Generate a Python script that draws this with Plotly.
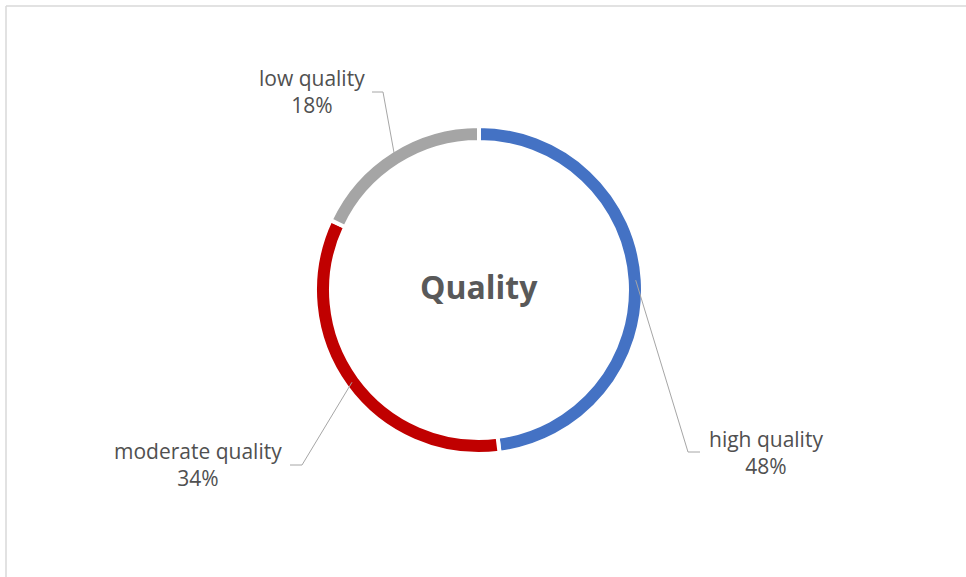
import math
import plotly.graph_objects as go

labels = ["high quality", "moderate quality", "low quality"]
values = [48, 34, 18]
colors = ["#4472C4", "#C00000", "#A5A5A5"]
center_title = "Quality"

W, H = 966, 577
cx, cy = 479, 290          # pixel centre of ring
r_out, r_in = 164, 148      # incl. white separator stroke
gap = 4

def px(x):
    return x / W

def py(y):
    return 1 - y / H

fig = go.Figure()
fig.add_trace(go.Pie(
    labels=labels,
    values=values,
    marker=dict(colors=colors, line=dict(color="white", width=gap)),
    hole=r_in / r_out,
    sort=False,
    direction="clockwise",
    rotation=0,
    textinfo="none",
    hoverinfo="label+percent",
    showlegend=False,
    domain=dict(x=[px(cx - r_out), px(cx + r_out)],
                y=[py(cy + r_out), py(cy - r_out)]),
))

# label layout (elbow point, end point, text centre) per slice
label_layout = {
    "high quality": dict(elbow=(688, 452), end=(700, 452), text=(766, 452)),
    "moderate quality": dict(elbow=(302, 465), end=(290, 465), text=(198, 464)),
    "low quality": dict(elbow=(383, 92), end=(372, 92), text=(312, 92)),
}

total = sum(values)
cum = 0
shapes = []
annotations = []
r_anchor = 157
for lab, v in zip(labels, values):
    mid = (cum + v / 2) / total * 2 * math.pi
    cum += v
    ax = cx + r_anchor * math.sin(mid)
    ay = cy - r_anchor * math.cos(mid)
    lay = label_layout[lab]
    ex, ey = lay["elbow"]
    fx, fy = lay["end"]
    shapes.append(dict(type="path", xref="paper", yref="paper",
                       path=f"M {px(ax)} {py(ay)} L {px(ex)} {py(ey)} L {px(fx)} {py(fy)}",
                       line=dict(color="#A6A6A6", width=1)))
    tx, ty = lay["text"]
    annotations.append(dict(x=px(tx), y=py(ty), xref="paper", yref="paper",
                            xanchor="center", yanchor="middle",
                            text=f"{lab}<br>{round(v / total * 100)}%",
                            showarrow=False, align="center",
                            font=dict(family="Open Sans, sans-serif", size=21, color="#505050")))

annotations.append(dict(x=px(cx), y=py(cy - 4), xref="paper", yref="paper",
                        xanchor="center", yanchor="middle",
                        text=f"<b>{center_title}</b>", showarrow=False,
                        font=dict(family="Open Sans, sans-serif", size=32, color="#595959")))

# chart frame (partial border)
shapes.append(dict(type="line", xref="paper", yref="paper", x0=px(6), x1=px(W + 5),
                   y0=py(6), y1=py(6), line=dict(color="#D9D9D9", width=1.5)))
shapes.append(dict(type="line", xref="paper", yref="paper", x0=px(6), x1=px(6),
                   y0=py(6), y1=py(H + 5), line=dict(color="#D9D9D9", width=1.5)))

fig.update_layout(
    width=W, height=H,
    margin=dict(l=0, r=0, t=0, b=0),
    paper_bgcolor="white",
    plot_bgcolor="white",
    shapes=shapes,
    annotations=annotations,
)

fig.write_html("out.html",
               config={"displayModeBar": False},
               post_script="document.body.style.margin='0';document.body.style.overflow='hidden';")
